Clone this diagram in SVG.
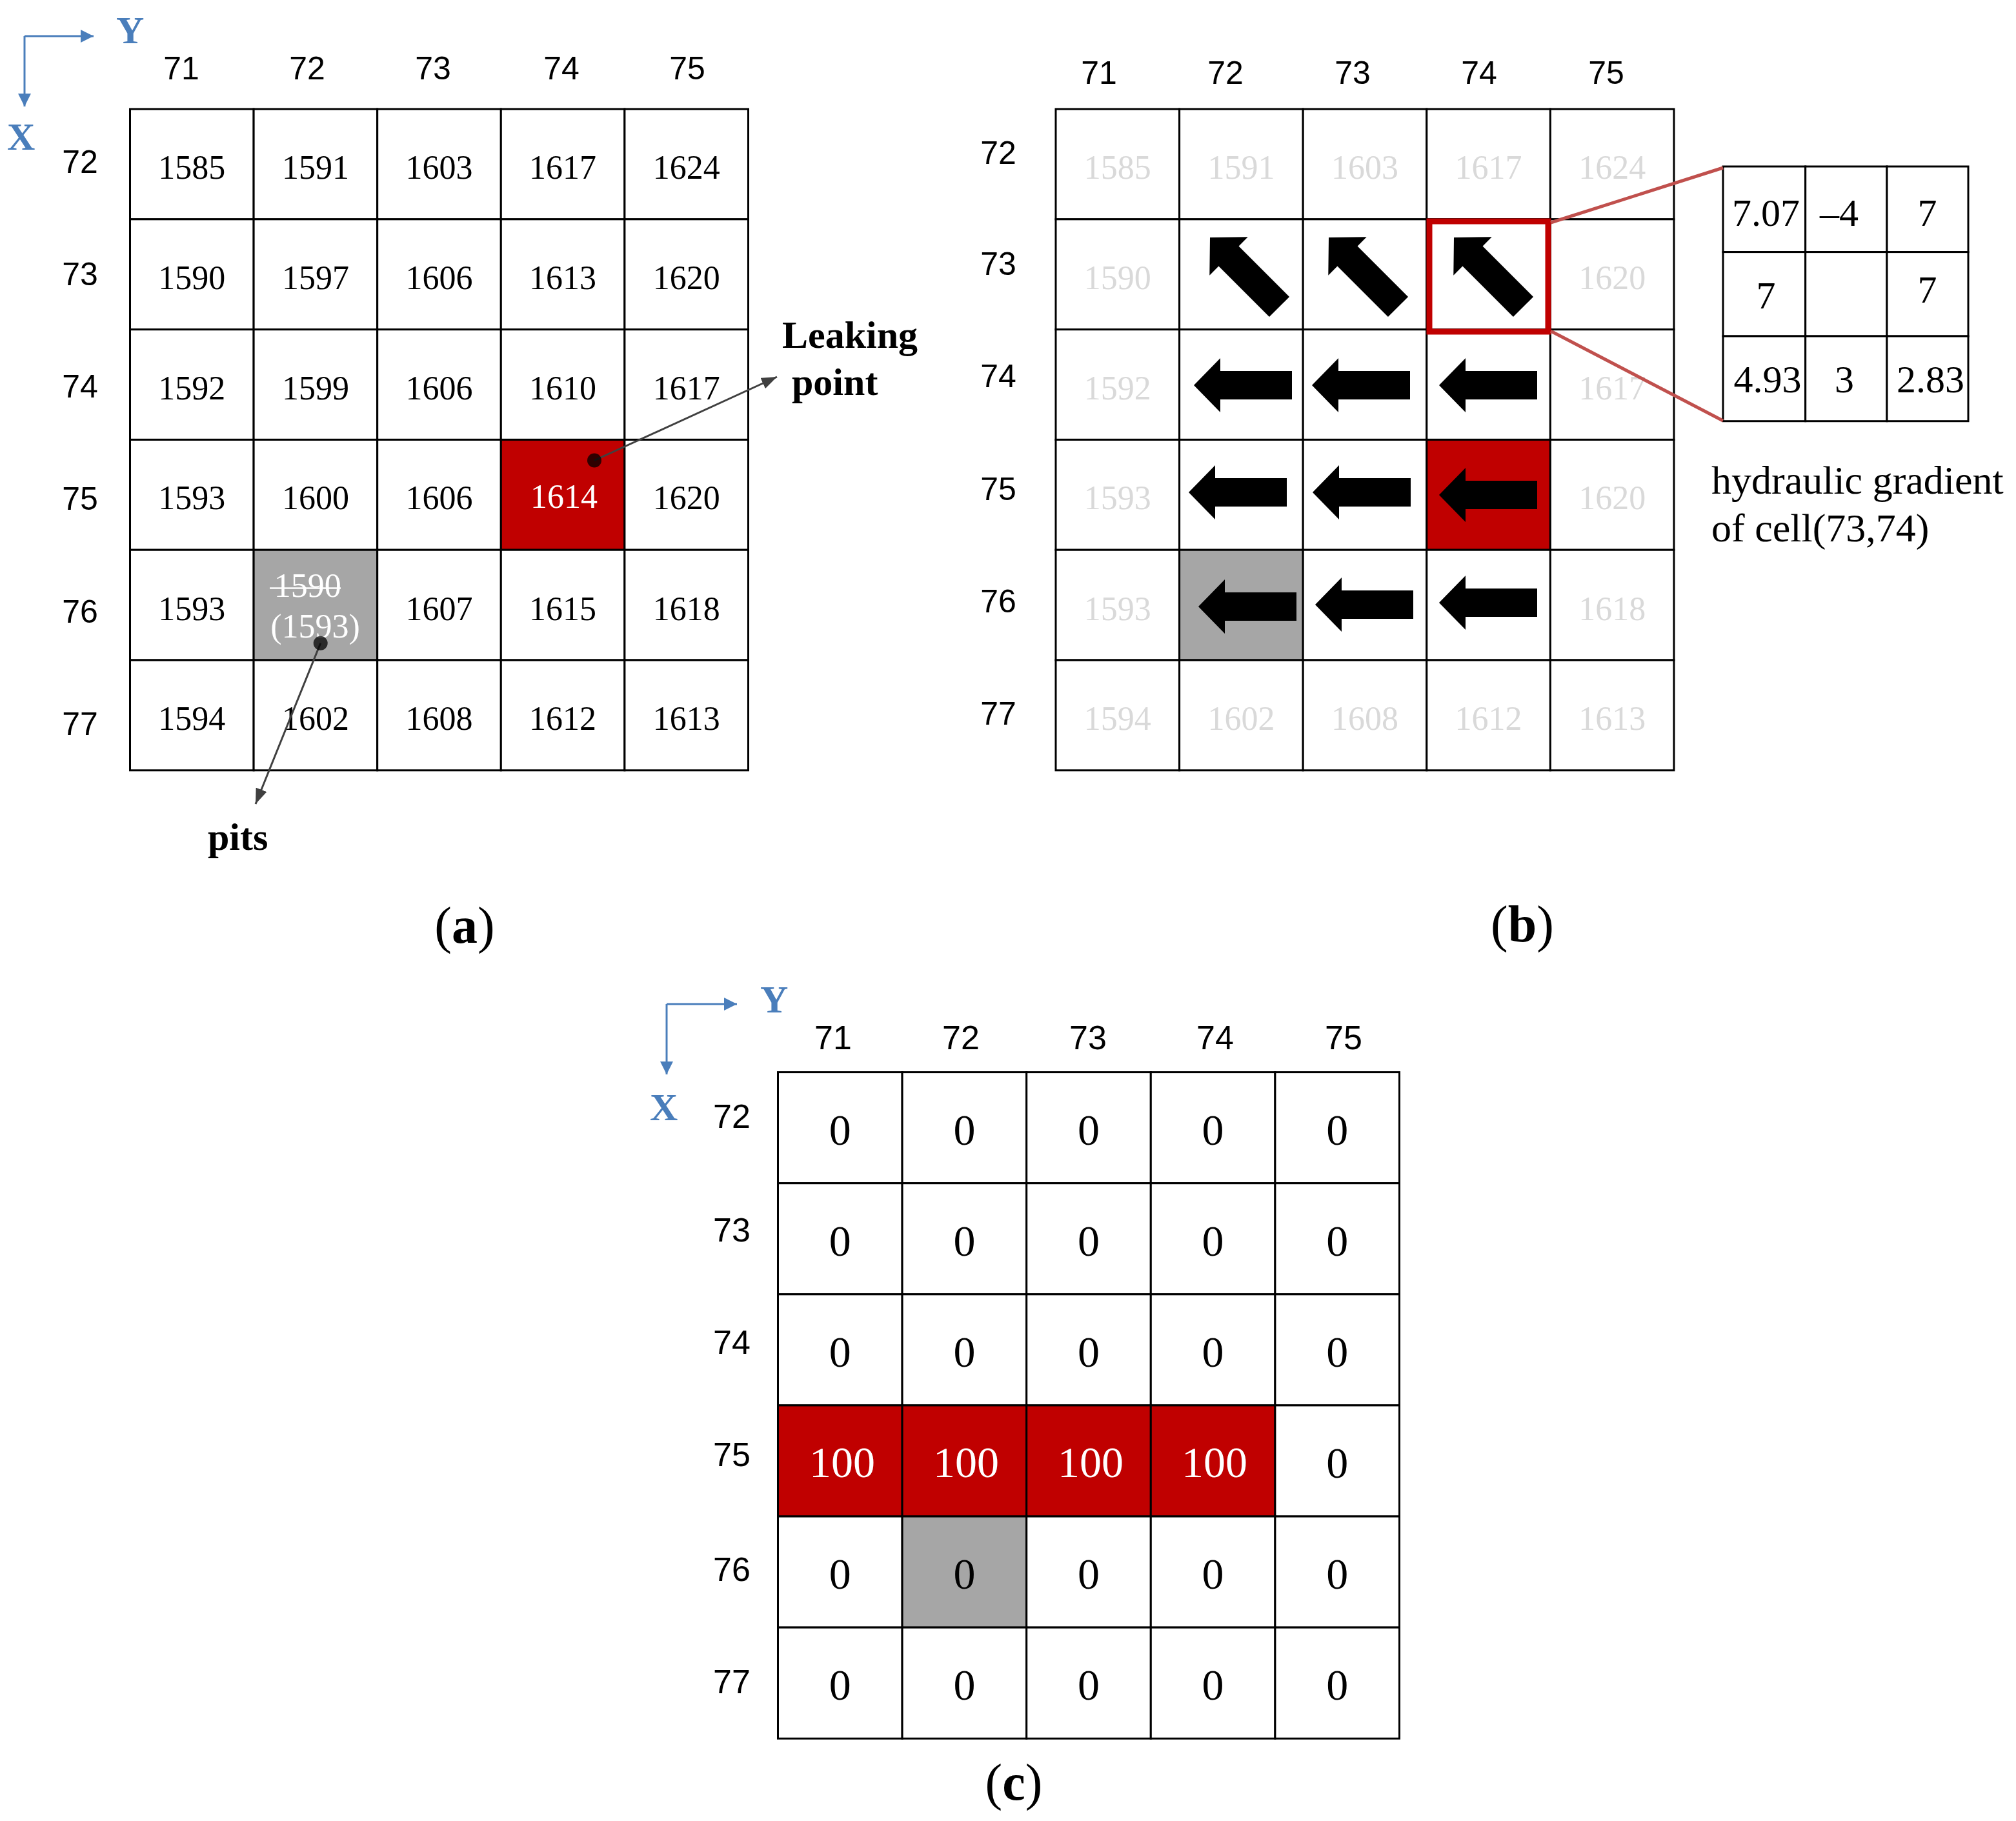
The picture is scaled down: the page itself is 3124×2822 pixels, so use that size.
<svg xmlns="http://www.w3.org/2000/svg" width="3124" height="2822" viewBox="0 0 3124 2822">
<style>
.bg{fill:#fff}
.cell{fill:#fff;stroke:#000;stroke-width:3}
.red{fill:#c00000;stroke:#000;stroke-width:3}
.gray{fill:#a6a6a6;stroke:#000;stroke-width:3}
.num{font-family:"Liberation Serif",serif;font-size:52px;text-anchor:middle;fill:#000}
.zero{font-family:"Liberation Serif",serif;font-size:68px;text-anchor:middle;fill:#000}
.ins{font-family:"Liberation Serif",serif;font-size:60px;text-anchor:middle;fill:#000}
.lab{font-family:"Liberation Sans",sans-serif;font-size:50px;text-anchor:middle;fill:#000}
.labc{font-family:"Liberation Sans",sans-serif;font-size:52px;text-anchor:middle;fill:#000}
.axis{font-family:"Liberation Serif",serif;font-size:60px;font-weight:bold;fill:#4a7ebb}
.note{font-family:"Liberation Serif",serif;font-size:60px;font-weight:bold;fill:#000}
.desc{font-family:"Liberation Serif",serif;font-size:62px;fill:#000}
.cap{font-family:"Liberation Serif",serif;font-size:80px;text-anchor:middle;fill:#000}
.bl{stroke:#4a7ebb;stroke-width:3;fill:none}
.gl{stroke:#404040;stroke-width:3;fill:none}
.zl{stroke:#c0504d;stroke-width:5;fill:none}
.arr{fill:#000}
text.faint{fill:#d9d9d9}
text.white{fill:#fff}
</style>
<defs>
<marker id="mb" viewBox="0 0 20 20" refX="20" refY="10" markerWidth="20" markerHeight="20" markerUnits="userSpaceOnUse" orient="auto"><path d="M0,0 L20,10 L0,20 Z" fill="#4a7ebb"/></marker>
<marker id="mg" viewBox="0 0 24 18" refX="24" refY="9" markerWidth="24" markerHeight="18" markerUnits="userSpaceOnUse" orient="auto"><path d="M0,0 L24,9 L0,18 Z" fill="#404040"/></marker>
<path id="larr" d="M0,0 L41,-42 L41,-22 L152,-22 L152,22 L41,22 L41,42 Z"/>
</defs>
<rect class="bg" x="0" y="0" width="3124" height="2822"/>

<!-- ============ PANEL A ============ -->
<g id="panel-a">
<g id="a-col-labels">
<text class="lab" x="281" y="123">71</text>
<text class="lab" x="476" y="123">72</text>
<text class="lab" x="671" y="123">73</text>
<text class="lab" x="870" y="123">74</text>
<text class="lab" x="1065" y="123">75</text>
</g>
<g id="a-row-labels">
<text class="lab" x="124" y="268">72</text>
<text class="lab" x="124" y="442">73</text>
<text class="lab" x="124" y="616">74</text>
<text class="lab" x="124" y="790">75</text>
<text class="lab" x="124" y="965">76</text>
<text class="lab" x="124" y="1139">77</text>
</g>
<g id="a-axes-labels">
<text class="axis" x="180" y="67">Y</text>
<text class="axis" x="11" y="232">X</text>
</g>
<!-- row 72 -->
<g id="a-72-71"><rect class="cell" x="201.5" y="169" width="191.6" height="170.8"/><text class="num" x="297.3" y="277">1585</text></g>
<g id="a-72-72"><rect class="cell" x="393.1" y="169" width="191.6" height="170.8"/><text class="num" x="488.9" y="277">1591</text></g>
<g id="a-72-73"><rect class="cell" x="584.7" y="169" width="191.6" height="170.8"/><text class="num" x="680.5" y="277">1603</text></g>
<g id="a-72-74"><rect class="cell" x="776.3" y="169" width="191.6" height="170.8"/><text class="num" x="872.1" y="277">1617</text></g>
<g id="a-72-75"><rect class="cell" x="967.9" y="169" width="191.6" height="170.8"/><text class="num" x="1063.7" y="277">1624</text></g>
<!-- row 73 -->
<g id="a-73-71"><rect class="cell" x="201.5" y="339.8" width="191.6" height="170.8"/><text class="num" x="297.3" y="448">1590</text></g>
<g id="a-73-72"><rect class="cell" x="393.1" y="339.8" width="191.6" height="170.8"/><text class="num" x="488.9" y="448">1597</text></g>
<g id="a-73-73"><rect class="cell" x="584.7" y="339.8" width="191.6" height="170.8"/><text class="num" x="680.5" y="448">1606</text></g>
<g id="a-73-74"><rect class="cell" x="776.3" y="339.8" width="191.6" height="170.8"/><text class="num" x="872.1" y="448">1613</text></g>
<g id="a-73-75"><rect class="cell" x="967.9" y="339.8" width="191.6" height="170.8"/><text class="num" x="1063.7" y="448">1620</text></g>
<!-- row 74 -->
<g id="a-74-71"><rect class="cell" x="201.5" y="510.6" width="191.6" height="170.8"/><text class="num" x="297.3" y="619">1592</text></g>
<g id="a-74-72"><rect class="cell" x="393.1" y="510.6" width="191.6" height="170.8"/><text class="num" x="488.9" y="619">1599</text></g>
<g id="a-74-73"><rect class="cell" x="584.7" y="510.6" width="191.6" height="170.8"/><text class="num" x="680.5" y="619">1606</text></g>
<g id="a-74-74"><rect class="cell" x="776.3" y="510.6" width="191.6" height="170.8"/><text class="num" x="872.1" y="619">1610</text></g>
<g id="a-74-75"><rect class="cell" x="967.9" y="510.6" width="191.6" height="170.8"/><text class="num" x="1063.7" y="619">1617</text></g>
<!-- row 75 -->
<g id="a-75-71"><rect class="cell" x="201.5" y="681.4" width="191.6" height="170.8"/><text class="num" x="297.3" y="789">1593</text></g>
<g id="a-75-72"><rect class="cell" x="393.1" y="681.4" width="191.6" height="170.8"/><text class="num" x="488.9" y="789">1600</text></g>
<g id="a-75-73"><rect class="cell" x="584.7" y="681.4" width="191.6" height="170.8"/><text class="num" x="680.5" y="789">1606</text></g>
<g id="a-75-74"><rect class="red" x="776.3" y="681.4" width="191.6" height="170.8"/><text class="num white" x="874" y="787">1614</text></g>
<g id="a-75-75"><rect class="cell" x="967.9" y="681.4" width="191.6" height="170.8"/><text class="num" x="1063.7" y="789">1620</text></g>
<!-- row 76 -->
<g id="a-76-71"><rect class="cell" x="201.5" y="852.2" width="191.6" height="170.8"/><text class="num" x="297.3" y="961">1593</text></g>
<g id="a-76-72"><rect class="gray" x="393.1" y="852.2" width="191.6" height="170.8"/><text class="num white" x="476.7" y="925">1590</text><line x1="418" y1="911.5" x2="528" y2="911.5" stroke="#fff" stroke-width="2.5"/><text class="num white" x="488.5" y="988">(1593)</text></g>
<g id="a-76-73"><rect class="cell" x="584.7" y="852.2" width="191.6" height="170.8"/><text class="num" x="680.5" y="961">1607</text></g>
<g id="a-76-74"><rect class="cell" x="776.3" y="852.2" width="191.6" height="170.8"/><text class="num" x="872.1" y="961">1615</text></g>
<g id="a-76-75"><rect class="cell" x="967.9" y="852.2" width="191.6" height="170.8"/><text class="num" x="1063.7" y="961">1618</text></g>
<!-- row 77 -->
<g id="a-77-71"><rect class="cell" x="201.5" y="1023" width="191.6" height="170.8"/><text class="num" x="297.3" y="1131">1594</text></g>
<g id="a-77-72"><rect class="cell" x="393.1" y="1023" width="191.6" height="170.8"/><text class="num" x="488.9" y="1131">1602</text></g>
<g id="a-77-73"><rect class="cell" x="584.7" y="1023" width="191.6" height="170.8"/><text class="num" x="680.5" y="1131">1608</text></g>
<g id="a-77-74"><rect class="cell" x="776.3" y="1023" width="191.6" height="170.8"/><text class="num" x="872.1" y="1131">1612</text></g>
<g id="a-77-75"><rect class="cell" x="967.9" y="1023" width="191.6" height="170.8"/><text class="num" x="1063.7" y="1131">1613</text></g>
<g id="a-leaking-label"><text class="note" x="1212" y="539">Leaking</text><text class="note" x="1227" y="612">point</text></g>
<g id="a-pits-label"><text class="note" x="322" y="1317">pits</text></g>
<g id="a-caption"><text class="cap" x="720" y="1461">(<tspan font-weight="bold">a</tspan>)</text></g>
</g>

<!-- ============ PANEL B ============ -->
<g id="panel-b">
<g id="b-col-labels">
<text class="lab" x="1703" y="130">71</text>
<text class="lab" x="1899" y="130">72</text>
<text class="lab" x="2096" y="130">73</text>
<text class="lab" x="2292" y="130">74</text>
<text class="lab" x="2489" y="130">75</text>
</g>
<g id="b-row-labels">
<text class="lab" x="1547" y="254">72</text>
<text class="lab" x="1547" y="426">73</text>
<text class="lab" x="1547" y="600">74</text>
<text class="lab" x="1547" y="775">75</text>
<text class="lab" x="1547" y="949">76</text>
<text class="lab" x="1547" y="1123">77</text>
</g>
<!-- row 72 -->
<g id="b-72-71"><rect class="cell" x="1636" y="169" width="191.6" height="170.8"/><text class="num faint" x="1731.8" y="277">1585</text></g>
<g id="b-72-72"><rect class="cell" x="1827.6" y="169" width="191.6" height="170.8"/><text class="num faint" x="1923.4" y="277">1591</text></g>
<g id="b-72-73"><rect class="cell" x="2019.2" y="169" width="191.6" height="170.8"/><text class="num faint" x="2115" y="277">1603</text></g>
<g id="b-72-74"><rect class="cell" x="2210.8" y="169" width="191.6" height="170.8"/><text class="num faint" x="2306.6" y="277">1617</text></g>
<g id="b-72-75"><rect class="cell" x="2402.4" y="169" width="191.6" height="170.8"/><text class="num faint" x="2498.2" y="277">1624</text></g>
<!-- row 73 -->
<g id="b-73-71"><rect class="cell" x="1636" y="339.8" width="191.6" height="170.8"/><text class="num faint" x="1731.8" y="448">1590</text></g>
<g id="b-73-72"><rect class="cell" x="1827.6" y="339.8" width="191.6" height="170.8"/><use href="#larr" class="arr" transform="translate(1875,368) rotate(45)"/></g>
<g id="b-73-73"><rect class="cell" x="2019.2" y="339.8" width="191.6" height="170.8"/><use href="#larr" class="arr" transform="translate(2059,368) rotate(45)"/></g>
<g id="b-73-74"><rect class="cell" x="2210.8" y="339.8" width="191.6" height="170.8"/><use href="#larr" class="arr" transform="translate(2253,368) rotate(45)"/></g>
<g id="b-73-75"><rect class="cell" x="2402.4" y="339.8" width="191.6" height="170.8"/><text class="num faint" x="2498.2" y="448">1620</text></g>
<!-- row 74 -->
<g id="b-74-71"><rect class="cell" x="1636" y="510.6" width="191.6" height="170.8"/><text class="num faint" x="1731.8" y="619">1592</text></g>
<g id="b-74-72"><rect class="cell" x="1827.6" y="510.6" width="191.6" height="170.8"/><use href="#larr" class="arr" transform="translate(1850,597)"/></g>
<g id="b-74-73"><rect class="cell" x="2019.2" y="510.6" width="191.6" height="170.8"/><use href="#larr" class="arr" transform="translate(2033,597)"/></g>
<g id="b-74-74"><rect class="cell" x="2210.8" y="510.6" width="191.6" height="170.8"/><use href="#larr" class="arr" transform="translate(2230,597)"/></g>
<g id="b-74-75"><rect class="cell" x="2402.4" y="510.6" width="191.6" height="170.8"/><text class="num faint" x="2498.2" y="619">1617</text></g>
<!-- row 75 -->
<g id="b-75-71"><rect class="cell" x="1636" y="681.4" width="191.6" height="170.8"/><text class="num faint" x="1731.8" y="789">1593</text></g>
<g id="b-75-72"><rect class="cell" x="1827.6" y="681.4" width="191.6" height="170.8"/><use href="#larr" class="arr" transform="translate(1842,763)"/></g>
<g id="b-75-73"><rect class="cell" x="2019.2" y="681.4" width="191.6" height="170.8"/><use href="#larr" class="arr" transform="translate(2034,763)"/></g>
<g id="b-75-74"><rect class="red" x="2210.8" y="681.4" width="191.6" height="170.8"/><use href="#larr" class="arr" transform="translate(2230,767)"/></g>
<g id="b-75-75"><rect class="cell" x="2402.4" y="681.4" width="191.6" height="170.8"/><text class="num faint" x="2498.2" y="789">1620</text></g>
<!-- row 76 -->
<g id="b-76-71"><rect class="cell" x="1636" y="852.2" width="191.6" height="170.8"/><text class="num faint" x="1731.8" y="961">1593</text></g>
<g id="b-76-72"><rect class="gray" x="1827.6" y="852.2" width="191.6" height="170.8"/><use href="#larr" class="arr" transform="translate(1857,940)"/></g>
<g id="b-76-73"><rect class="cell" x="2019.2" y="852.2" width="191.6" height="170.8"/><use href="#larr" class="arr" transform="translate(2038,937)"/></g>
<g id="b-76-74"><rect class="cell" x="2210.8" y="852.2" width="191.6" height="170.8"/><use href="#larr" class="arr" transform="translate(2230,934)"/></g>
<g id="b-76-75"><rect class="cell" x="2402.4" y="852.2" width="191.6" height="170.8"/><text class="num faint" x="2498.2" y="961">1618</text></g>
<!-- row 77 -->
<g id="b-77-71"><rect class="cell" x="1636" y="1023" width="191.6" height="170.8"/><text class="num faint" x="1731.8" y="1131">1594</text></g>
<g id="b-77-72"><rect class="cell" x="1827.6" y="1023" width="191.6" height="170.8"/><text class="num faint" x="1923.4" y="1131">1602</text></g>
<g id="b-77-73"><rect class="cell" x="2019.2" y="1023" width="191.6" height="170.8"/><text class="num faint" x="2115" y="1131">1608</text></g>
<g id="b-77-74"><rect class="cell" x="2210.8" y="1023" width="191.6" height="170.8"/><text class="num faint" x="2306.6" y="1131">1612</text></g>
<g id="b-77-75"><rect class="cell" x="2402.4" y="1023" width="191.6" height="170.8"/><text class="num faint" x="2498.2" y="1131">1613</text></g>
<g id="b-highlight"><rect x="2215" y="343" width="184" height="171" fill="none" stroke="#c00000" stroke-width="9"/></g>
<g id="b-inset">
<rect class="cell" x="2670" y="258" width="127.7" height="132.6"/>
<rect class="cell" x="2797.7" y="258" width="126.3" height="132.6"/>
<rect class="cell" x="2924" y="258" width="126" height="132.6"/>
<rect class="cell" x="2670" y="390.6" width="127.7" height="130.4"/>
<rect class="cell" x="2797.7" y="390.6" width="126.3" height="130.4"/>
<rect class="cell" x="2924" y="390.6" width="126" height="130.4"/>
<rect class="cell" x="2670" y="521" width="127.7" height="131.7"/>
<rect class="cell" x="2797.7" y="521" width="126.3" height="131.7"/>
<rect class="cell" x="2924" y="521" width="126" height="131.7"/>
<text class="ins" x="2736.5" y="350">7.07</text>
<text class="ins" x="2850" y="350">–4</text>
<text class="ins" x="2986.5" y="350">7</text>
<text class="ins" x="2736.5" y="478">7</text>
<text class="ins" x="2986.5" y="469">7</text>
<text class="ins" x="2739" y="608">4.93</text>
<text class="ins" x="2858" y="608">3</text>
<text class="ins" x="2991.5" y="608">2.83</text>
</g>
<g id="b-inset-caption"><text class="desc" x="2652" y="765">hydraulic gradient</text><text class="desc" x="2652" y="839">of cell(73,74)</text></g>
<g id="b-caption"><text class="cap" x="2359" y="1459">(<tspan font-weight="bold">b</tspan>)</text></g>
</g>

<!-- ============ PANEL C ============ -->
<g id="panel-c">
<g id="c-col-labels">
<text class="labc" x="1291" y="1626">71</text>
<text class="labc" x="1489" y="1626">72</text>
<text class="labc" x="1686" y="1626">73</text>
<text class="labc" x="1883" y="1626">74</text>
<text class="labc" x="2082" y="1626">75</text>
</g>
<g id="c-row-labels">
<text class="labc" x="1134" y="1748">72</text>
<text class="labc" x="1134" y="1924">73</text>
<text class="labc" x="1134" y="2098">74</text>
<text class="labc" x="1134" y="2272">75</text>
<text class="labc" x="1134" y="2450">76</text>
<text class="labc" x="1134" y="2624">77</text>
</g>
<g id="c-axes-labels">
<text class="axis" x="1178" y="1569">Y</text>
<text class="axis" x="1007" y="1736">X</text>
</g>
<!-- row 72 -->
<g id="c-72-71"><rect class="cell" x="1205.5" y="1661.6" width="192.6" height="172.1"/><text class="zero" x="1301.8" y="1774">0</text></g>
<g id="c-72-72"><rect class="cell" x="1398.1" y="1661.6" width="192.6" height="172.1"/><text class="zero" x="1494.4" y="1774">0</text></g>
<g id="c-72-73"><rect class="cell" x="1590.7" y="1661.6" width="192.6" height="172.1"/><text class="zero" x="1687" y="1774">0</text></g>
<g id="c-72-74"><rect class="cell" x="1783.3" y="1661.6" width="192.6" height="172.1"/><text class="zero" x="1879.6" y="1774">0</text></g>
<g id="c-72-75"><rect class="cell" x="1975.9" y="1661.6" width="192.6" height="172.1"/><text class="zero" x="2072.2" y="1774">0</text></g>
<!-- row 73 -->
<g id="c-73-71"><rect class="cell" x="1205.5" y="1833.7" width="192.6" height="172.1"/><text class="zero" x="1301.8" y="1946">0</text></g>
<g id="c-73-72"><rect class="cell" x="1398.1" y="1833.7" width="192.6" height="172.1"/><text class="zero" x="1494.4" y="1946">0</text></g>
<g id="c-73-73"><rect class="cell" x="1590.7" y="1833.7" width="192.6" height="172.1"/><text class="zero" x="1687" y="1946">0</text></g>
<g id="c-73-74"><rect class="cell" x="1783.3" y="1833.7" width="192.6" height="172.1"/><text class="zero" x="1879.6" y="1946">0</text></g>
<g id="c-73-75"><rect class="cell" x="1975.9" y="1833.7" width="192.6" height="172.1"/><text class="zero" x="2072.2" y="1946">0</text></g>
<!-- row 74 -->
<g id="c-74-71"><rect class="cell" x="1205.5" y="2005.8" width="192.6" height="172.1"/><text class="zero" x="1301.8" y="2118">0</text></g>
<g id="c-74-72"><rect class="cell" x="1398.1" y="2005.8" width="192.6" height="172.1"/><text class="zero" x="1494.4" y="2118">0</text></g>
<g id="c-74-73"><rect class="cell" x="1590.7" y="2005.8" width="192.6" height="172.1"/><text class="zero" x="1687" y="2118">0</text></g>
<g id="c-74-74"><rect class="cell" x="1783.3" y="2005.8" width="192.6" height="172.1"/><text class="zero" x="1879.6" y="2118">0</text></g>
<g id="c-74-75"><rect class="cell" x="1975.9" y="2005.8" width="192.6" height="172.1"/><text class="zero" x="2072.2" y="2118">0</text></g>
<!-- row 75 -->
<g id="c-75-71"><rect class="red" x="1205.5" y="2177.9" width="192.6" height="172.1"/><text class="zero white" x="1305" y="2289">100</text></g>
<g id="c-75-72"><rect class="red" x="1398.1" y="2177.9" width="192.6" height="172.1"/><text class="zero white" x="1497" y="2289">100</text></g>
<g id="c-75-73"><rect class="red" x="1590.7" y="2177.9" width="192.6" height="172.1"/><text class="zero white" x="1690" y="2289">100</text></g>
<g id="c-75-74"><rect class="red" x="1783.3" y="2177.9" width="192.6" height="172.1"/><text class="zero white" x="1882" y="2289">100</text></g>
<g id="c-75-75"><rect class="cell" x="1975.9" y="2177.9" width="192.6" height="172.1"/><text class="zero" x="2072.2" y="2290">0</text></g>
<!-- row 76 -->
<g id="c-76-71"><rect class="cell" x="1205.5" y="2350" width="192.6" height="172.1"/><text class="zero" x="1301.8" y="2462">0</text></g>
<g id="c-76-72"><rect class="gray" x="1398.1" y="2350" width="192.6" height="172.1"/><text class="zero" x="1494.4" y="2462">0</text></g>
<g id="c-76-73"><rect class="cell" x="1590.7" y="2350" width="192.6" height="172.1"/><text class="zero" x="1687" y="2462">0</text></g>
<g id="c-76-74"><rect class="cell" x="1783.3" y="2350" width="192.6" height="172.1"/><text class="zero" x="1879.6" y="2462">0</text></g>
<g id="c-76-75"><rect class="cell" x="1975.9" y="2350" width="192.6" height="172.1"/><text class="zero" x="2072.2" y="2462">0</text></g>
<!-- row 77 -->
<g id="c-77-71"><rect class="cell" x="1205.5" y="2522.1" width="192.6" height="172.1"/><text class="zero" x="1301.8" y="2634">0</text></g>
<g id="c-77-72"><rect class="cell" x="1398.1" y="2522.1" width="192.6" height="172.1"/><text class="zero" x="1494.4" y="2634">0</text></g>
<g id="c-77-73"><rect class="cell" x="1590.7" y="2522.1" width="192.6" height="172.1"/><text class="zero" x="1687" y="2634">0</text></g>
<g id="c-77-74"><rect class="cell" x="1783.3" y="2522.1" width="192.6" height="172.1"/><text class="zero" x="1879.6" y="2634">0</text></g>
<g id="c-77-75"><rect class="cell" x="1975.9" y="2522.1" width="192.6" height="172.1"/><text class="zero" x="2072.2" y="2634">0</text></g>
<g id="c-caption"><text class="cap" x="1571" y="2789">(<tspan font-weight="bold">c</tspan>)</text></g>
</g>

<!-- ============ CONNECTORS ============ -->
<g id="connectors">
<path class="bl" d="M38,56 L145,56" marker-end="url(#mb)"/>
<path class="bl" d="M38,56 L38,165" marker-end="url(#mb)"/>
<path class="bl" d="M1033,1556 L1142,1556" marker-end="url(#mb)"/>
<path class="bl" d="M1033,1556 L1033,1665" marker-end="url(#mb)"/>
<path class="gl" d="M921,713.5 L1204,584" marker-end="url(#mg)"/>
<circle cx="921" cy="713.5" r="11" fill="#000" fill-opacity="0.75"/>
<path class="gl" d="M496.7,996.7 L396,1246" marker-end="url(#mg)"/>
<circle cx="496.7" cy="996.7" r="11" fill="#000" fill-opacity="0.75"/>
<path class="zl" d="M2403,345 L2670,260"/>
<path class="zl" d="M2403,513 L2670,652"/>
</g>
</svg>
